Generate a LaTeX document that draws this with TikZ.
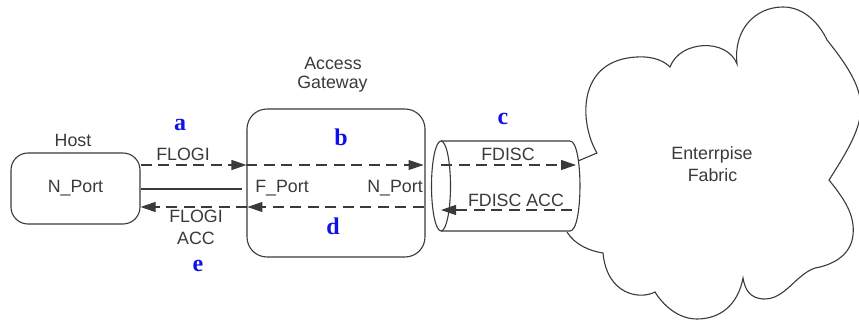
\documentclass[tikz,border=0pt]{standalone}
\usepackage{fontspec}
\setmainfont{Liberation Sans}
\newfontfamily\tagfont{Liberation Serif}
\usetikzlibrary{arrows.meta}
\definecolor{ink}{HTML}{3A3A3A}
\definecolor{tagblue}{RGB}{16,16,235}
\newcommand\lblsize{\fontsize{17.8pt}{18.3pt}\selectfont}
\newcommand\widesize{\fontsize{17.8pt}{21.7pt}\selectfont}
\tikzset{
  box/.style={draw=ink, line width=1.1pt, rounded corners=17pt, inner sep=0pt},
  lbl/.style={text=ink, font=\lblsize, inner sep=0pt, anchor=base},
  lbltwo/.style={text=ink, font=\widesize, inner sep=0pt, align=center, anchor=base},
  tag/.style={text=tagblue, font=\tagfont\bfseries\fontsize{24pt}{26pt}\selectfont, inner sep=0pt, anchor=base},
  flow/.style={draw=ink, line width=1.1pt, dash pattern=on 11pt off 6.5pt,
    -{Triangle[length=15pt,width=10pt]}},
  link/.style={draw=ink, line width=1.1pt},
  outline/.style={draw=ink, line width=1.1pt}
}
\begin{document}
\begin{tikzpicture}[x=1pt,y=-1pt]
\useasboundingbox (0,0) rectangle (859,320);

% host and access gateway
\node[box, minimum width=129pt, minimum height=71pt, text=ink, font=\lblsize]
  (host) at (75.5,188.5) {N\_Port};
\node[lbl] (hostlbl) at (73,147) {Host};
\node[box, rounded corners=20pt, minimum width=178pt, minimum height=148pt]
  (ag) at (336,183) {};
\node[lbl] (aglbl) at (333,70) {Access\strut};
\node[lbl] (aglbl2) at (332.5,88.3) {Gateway};
\node[lbl] (fport) at (282,193) {F\_Port};
\node[lbl] (nport) at (395,193) {N\_Port};

% link to the fabric drawn as a horizontal cylinder
\draw[outline] (441,186) ellipse [x radius=9.5, y radius=45];
\draw[outline] (441,141) -- (570,141)
  .. controls (583.3,141) and (583.3,231) .. (570,231) -- (441,231);
\coordinate (cylL) at (441,186);
\coordinate (cylR) at (576,186);

% enterprise fabric cloud
\draw[outline] (578,161) -- (597,153)
  .. controls (580,125) and (575,60) .. (637,57)
  .. controls (655,56) and (665,62) .. (670,67)
  .. controls (680,40) and (727,38) .. (737,64)
  .. controls (733,30) and (755,7) .. (783,7)
  .. controls (805,7) and (820,25) .. (827,40)
  .. controls (874,98.5) and (869.5,117) .. (829,180)
  .. controls (845,200) and (855,215) .. (853,235)
  .. controls (851,255) and (833,265) .. (815,268)
  .. controls (795,275) and (785,300) .. (763,299)
  .. controls (750,298) and (745,290) .. (743,278)
  .. controls (738,305) and (720,319) .. (697,319)
  .. controls (678,319) and (663,305) .. (655,292)
  .. controls (640,300) and (607,295) .. (603,253)
  .. controls (590,251) and (575,245) .. (567,232);
\node[lbl] (fabric) at (712,160) {Enterrpise};
\node[lbl] (fabric2) at (712.5,181.7) {Fabric};

% levels of the message lines
\coordinate (hiY) at (0,165);
\coordinate (midY) at (0,189);
\coordinate (loY) at (0,207);
\coordinate (cLo) at (0,210);

% messages
\draw[flow] (host.east |- hiY) -- (ag.west |- hiY);
\draw[flow] (ag.west |- hiY) -- ([xshift=-2pt]ag.east |- hiY);
\draw[flow] (cylL |- hiY) -- (cylR |- hiY);
\draw[flow] ([xshift=-4pt]cylR |- cLo) -- (cylL |- cLo);
\draw[flow] ([xshift=-2pt]ag.east |- loY) -- ([xshift=1pt]ag.west |- loY);
\draw[flow] ([xshift=1pt]ag.west |- loY) -- (host.east |- loY);
\draw[link] (host.east |- midY) -- ([xshift=-4pt]ag.west |- midY);

% message labels
\node[lbl] (flogi) at (183,161) {FLOGI};
\node[lbl] (flogiacc) at (196,223) {FLOGI};
\node[lbl] (flogiacc2) at (196,245) {ACC};
\node[lbl] (fdisc) at (508,161) {FDISC};
\node[lbl] (fdiscacc) at (516,207) {FDISC ACC};

% step letters
\node[tag] (ta) at (180,131) {a};
\node[tag] (tb) at (341,146) {b};
\node[tag] (tc) at (503,125) {c};
\node[tag] (td) at (333,235) {d};
\node[tag] (te) at (198,272) {e};
\end{tikzpicture}
\end{document}
